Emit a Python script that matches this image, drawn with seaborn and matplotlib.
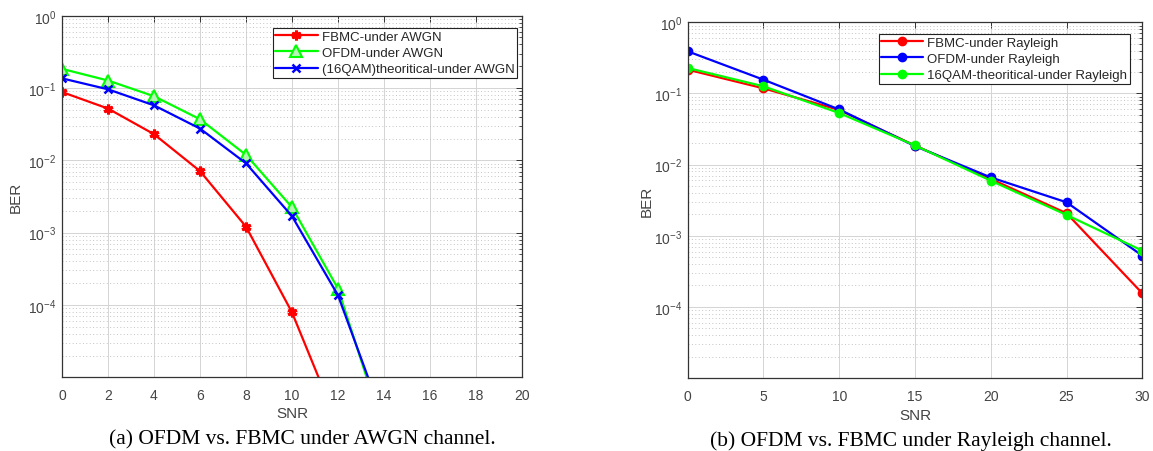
import numpy as np
import pandas as pd
import matplotlib
matplotlib.use("Agg")
import matplotlib.pyplot as plt
import seaborn as sns
from matplotlib.ticker import LogLocator, NullFormatter, FixedLocator, FuncFormatter

# ---------------- data ----------------
snr_awgn = [0, 2, 4, 6, 8, 10, 12, 14]
ber_fbmc_awgn = [0.088, 0.052, 0.023, 0.0071, 0.00121, 7.9e-5, 2.2e-6, np.nan]
ber_ofdm_awgn = [0.184, 0.127, 0.077, 0.037, 0.0119, 0.00224, 1.68e-4, 1.8e-6]
ber_theo_awgn = [0.136, 0.096, 0.0576, 0.0275, 0.0091, 0.00169, 1.36e-4, 2.5e-6]

snr_ray = [0, 5, 10, 15, 20, 25, 30]
ber_fbmc_ray = [0.216, 0.118, 0.0586, 0.0185, 0.00628, 0.00207, 1.55e-4]
ber_ofdm_ray = [0.391, 0.156, 0.0595, 0.0182, 0.0066, 0.00295, 5.25e-4]
ber_theo_ray = [0.228, 0.126, 0.053, 0.0186, 0.00594, 0.00196, 6.17e-4]

y_tick_exponents = [-4, -3, -2, -1, 0]
labels_awgn = ["FBMC-under AWGN", "OFDM-under AWGN", "(16QAM)theoritical-under AWGN"]
labels_ray = ["FBMC-under Rayleigh", "OFDM-under Rayleigh", "16QAM-theoritical-under Rayleigh"]
caption_a = "(a) OFDM vs. FBMC under AWGN channel."
caption_b = "(b) OFDM vs. FBMC under Rayleigh channel."

# ---------------- style ----------------
sns.set_theme(style="white")
plt.rcParams["font.family"] = ["Liberation Sans", "DejaVu Sans"]
plt.rcParams["mathtext.fontset"] = "custom"
plt.rcParams["mathtext.rm"] = "Liberation Sans"
plt.rcParams["mathtext.it"] = "Liberation Sans"
plt.rcParams["mathtext.default"] = "rm"

W, H = 1153, 452
fig = plt.figure(figsize=(W / 100, H / 100), dpi=100)
fig.patch.set_facecolor("white")

ax1 = fig.add_axes([62 / W, 1 - 378.3 / H, 460 / W, (378.3 - 16.7) / H])
ax2 = fig.add_axes([687.7 / W, 1 - 379 / H, 454.6 / W, (379 - 23.3) / H])

RED, GREEN, BLUE = "#ff0000", "#00ff00", "#0000ff"
axcol = "#333333"


def draw(ax, x, y, color, marker, label, **kw):
    df = pd.DataFrame({"SNR": x, "BER": y}).dropna()
    sns.lineplot(data=df, x="SNR", y="BER", ax=ax, color=color, marker=marker,
                 label=label, linewidth=1.6, **kw)


# left panel
draw(ax1, snr_awgn, ber_fbmc_awgn, RED, (6, 2, 0), labels_awgn[0],
     markersize=7, markeredgewidth=2.2, markeredgecolor=RED)
draw(ax1, snr_awgn, ber_ofdm_awgn, GREEN, "^", labels_awgn[1],
     markersize=8, markeredgewidth=1.5, markeredgecolor=GREEN, markerfacecolor="#b6f5b6")
draw(ax1, snr_awgn, ber_theo_awgn, BLUE, "x", labels_awgn[2],
     markersize=6, markeredgewidth=1.8, markeredgecolor=BLUE)

# right panel
for y, c, lab in zip([ber_fbmc_ray, ber_ofdm_ray, ber_theo_ray], [RED, BLUE, GREEN], labels_ray):
    draw(ax2, snr_ray, y, c, "o", lab, markersize=6, markeredgewidth=1,
         markeredgecolor=c, markerfacecolor=c)


def sci(v, pos):
    e = int(round(np.log10(v)))
    return r"$10^{%d}$" % e


legend_anchor = {ax1: (0.989, 0.966), ax2: (0.973, 0.967)}

for ax, xmax, xticks in [(ax1, 20, np.arange(0, 21, 2)), (ax2, 30, np.arange(0, 31, 5))]:
    ax.set_yscale("log")
    ax.set_xlim(0, xmax)
    ax.set_ylim(1e-5, 1)
    ax.set_xticks(xticks)
    ax.set_xticklabels([str(t) for t in xticks])
    ax.yaxis.set_major_locator(FixedLocator([10.0 ** e for e in y_tick_exponents]))
    ax.yaxis.set_major_formatter(FuncFormatter(sci))
    ax.yaxis.set_minor_locator(LogLocator(base=10, subs=np.arange(2, 10), numticks=20))
    ax.yaxis.set_minor_formatter(NullFormatter())
    ax.grid(True, which="major", axis="both", color="#d4d4d4", linewidth=0.7, linestyle="-")
    ax.grid(True, which="minor", axis="y", color="#c4c4c4", linewidth=0.7, linestyle=(0, (1, 2.5)))
    ax.set_axisbelow(True)
    for s in ax.spines.values():
        s.set_color(axcol)
        s.set_linewidth(0.9)
    ax.tick_params(which="both", direction="in", top=True, right=True, colors=axcol,
                   labelcolor="#444444", labelsize=10)
    ax.tick_params(which="major", length=4, width=0.7)
    ax.tick_params(which="minor", length=2, width=0.6)
    ax.tick_params(axis="x", pad=8)
    ax.tick_params(axis="y", pad=4)
    ax.set_xlabel("SNR", fontsize=11, color="#444444")
    ax.set_ylabel("BER", fontsize=11, color="#444444")
    leg = ax.legend(loc="upper right", bbox_to_anchor=legend_anchor[ax], fontsize=9.5,
                    frameon=True, fancybox=False, framealpha=1, edgecolor="#222222",
                    handlelength=3.2, handletextpad=0.3, labelspacing=0.3,
                    borderpad=0.2, borderaxespad=0.0)
    leg.get_frame().set_linewidth(0.8)

ax1.xaxis.set_label_coords(0.5, -0.08)
ax1.yaxis.set_label_coords(-0.085, 0.5)
ax2.xaxis.set_label_coords(0.5, -0.085)
ax2.yaxis.set_label_coords(-0.075, 0.5)

fig.text(302.5 / W, 1 - 440 / H, caption_a, ha="center", va="center",
         fontsize=15.5, family=["Liberation Serif", "DejaVu Serif"], color="black")
fig.text(911 / W, 1 - 441.5 / H, caption_b, ha="center", va="center",
         fontsize=15.5, family=["Liberation Serif", "DejaVu Serif"], color="black")

fig.savefig("out.png", dpi=100)
